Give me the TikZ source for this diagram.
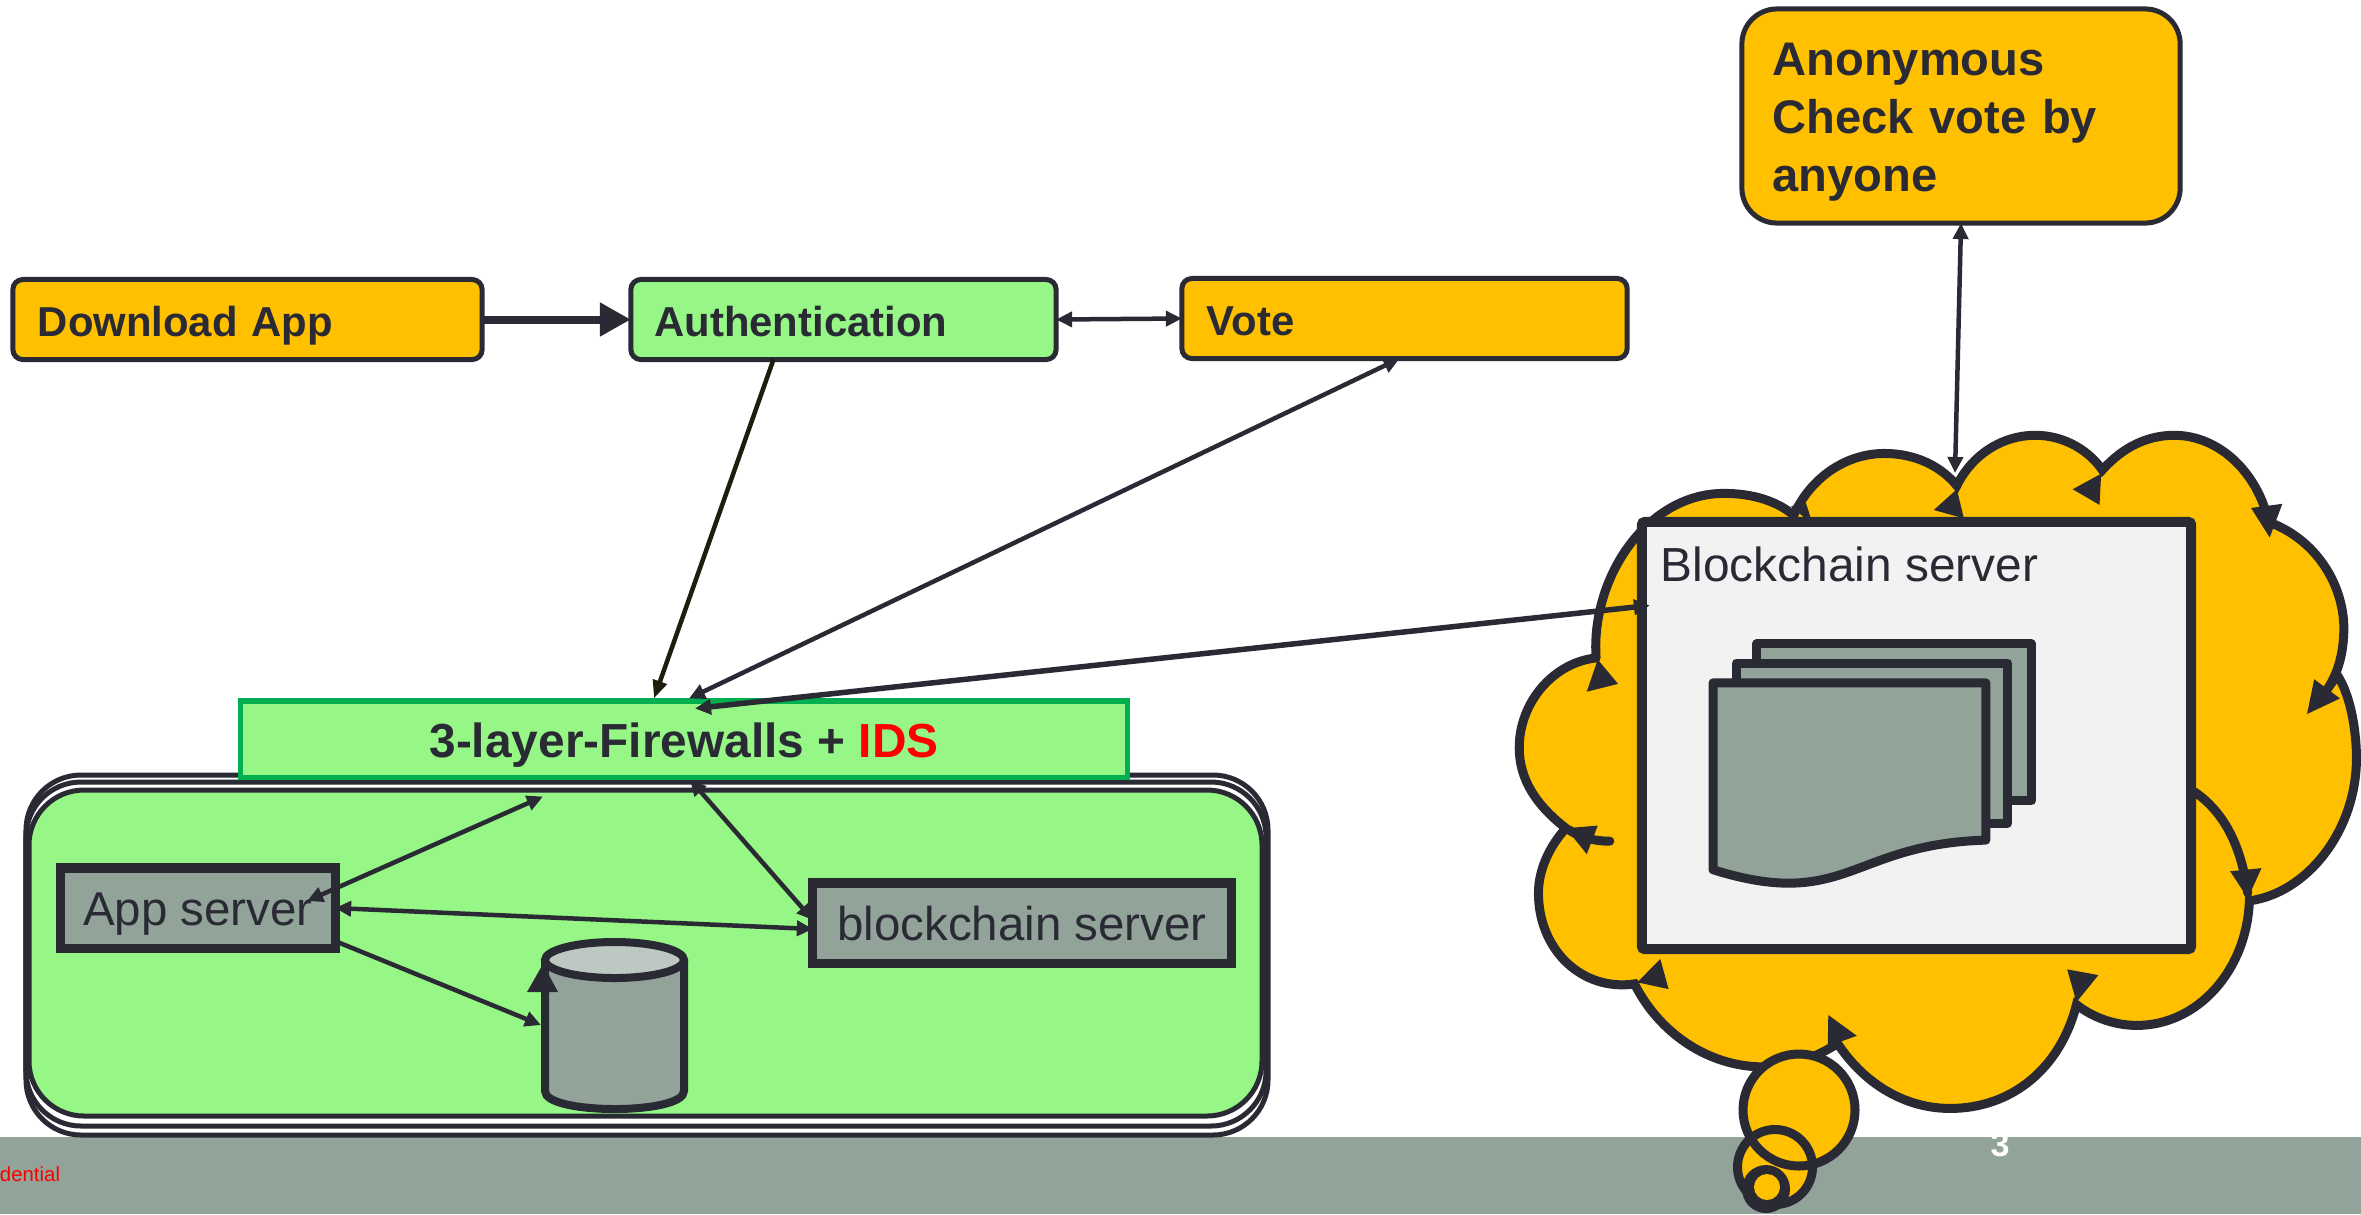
\documentclass[tikz,border=0pt]{standalone}
\usepackage{tikz}
\usepackage{xcolor}
\usepackage{fontspec}
\setmainfont{Liberation Sans}
\usetikzlibrary{arrows.meta}
\definecolor{inkdark}{HTML}{2A2A35}
\definecolor{boxorange}{HTML}{FFC000}
\definecolor{boxgreen}{HTML}{96F786}
\definecolor{wallgreen}{HTML}{00B050}
\definecolor{slategray}{HTML}{92A399}
\definecolor{paleslate}{HTML}{BEC8C2}
\definecolor{paperwhite}{HTML}{F2F2F2}
\definecolor{olivedark}{HTML}{1F1D0C}
\tikzset{
  stepbox/.style={rectangle,rounded corners=.1cm,draw=inkdark,line width=.05cm,text=inkdark,inner sep=0pt,outer sep=0pt,
    text height=12pt,text depth=2.5pt,font=\fontsize{11.9}{14.4}\selectfont\bfseries},
  serverbox/.style={rectangle,fill=slategray,draw=inkdark,line width=.09cm,text=inkdark,inner sep=0pt,outer sep=0pt,
    text height=10pt,text depth=0pt,font=\fontsize{13.5}{16}\selectfont},
  wire/.style={draw=inkdark,line width=.045cm,{Triangle[length=.16cm,width=.15cm]}-{Triangle[length=.16cm,width=.15cm]}},
  lobe/.style={draw=inkdark,line width=.09cm,line cap=round},
  sheet/.style={draw=inkdark,line width=.09cm,fill=slategray,line join=round},
  room/.style={draw=inkdark,line width=.05cm,rounded corners=.55cm},
}
\begin{document}
\begin{tikzpicture}[x=.01cm,y=-.01cm]
\useasboundingbox (0,0) rectangle (2361,1214);
% footer band
\fill[slategray] (0,1137) rectangle (2361,1214);
\draw (30,1174) node[text=red,font=\fontsize{5.8}{7}\selectfont](footer) {dential};
\draw (2000,1145) node[text=white,font=\fontsize{9.7}{11}\selectfont\bfseries](pagenum) {3};
% top row
\draw (247.5,319.5) node[stepbox,fill=boxorange,minimum width=4.69cm,minimum height=.8cm,text width=4.19cm](download) {Download App};
\draw (843.5,319.5) node[stepbox,fill=boxgreen,minimum width=4.25cm,minimum height=.8cm,text width=3.78cm](auth) {Authentication};
\draw (1404.5,318.5) node[stepbox,fill=boxorange,minimum width=4.45cm,minimum height=.8cm,text width=3.95cm](vote) {Vote};
\draw (1961,116) node[stepbox,fill=boxorange,rounded corners=.35cm,minimum width=4.38cm,minimum height=2.14cm,text width=3.77cm,
  text height=9.6pt,text depth=32.8pt,font=\fontsize{13.4}{16.6}\selectfont\bfseries](anon) {Anonymous\\Check vote by\\anyone};
% stacked server room
\draw[room,fill=white] (26,775) rectangle (1268,1135);
\draw[room,fill=white] (26,782) rectangle (1266,1126);
\draw[room,fill=boxgreen] (29,790) rectangle (1262,1116);
\draw (684,739) node[rectangle,fill=boxgreen,draw=wallgreen,line width=.05cm,minimum width=8.87cm,minimum height=.76cm,inner sep=0pt,text=inkdark,
  text height=13.5pt,text depth=2.8pt,font=\fontsize{13.6}{16}\selectfont\bfseries](wall) {3-layer-Firewalls + \textcolor{red}{IDS}};
\draw (198,908) node[serverbox,minimum width=2.74cm,minimum height=.8cm](appsrv) {App server};
\draw (1022,923) node[serverbox,minimum width=4.18cm,minimum height=.8cm](chainsrv) {blockchain server};
% database
\draw (614.5,1025) node[rectangle,minimum width=1.47cm,minimum height=1.75cm,inner sep=0pt,outer sep=0pt](store) {};
\filldraw[draw=inkdark,line width=.08cm,fill=slategray] (545,960) -- (545,1091) .. controls (545,1115) and (684,1115) .. (684,1091) -- (684,960);
\filldraw[draw=inkdark,line width=.08cm,fill=paleslate] (614.5,960) ellipse [x radius=69.5,y radius=18];
\fill[inkdark] (543,964) -- (558,992) -- (527,992) -- cycle;
% thought cloud
\begin{scope}[shift={(1500,400)},xscale=.549,yscale=.519]
\filldraw[lobe,fill=boxorange] (175,497)
  .. controls (165,340) and (270,178) .. (410,180) .. controls (460,180) and (505,195) .. (535,222)
  .. controls (565,150) and (630,103) .. (700,103) .. controls (760,103) and (805,130) .. (832,165)
  .. controls (860,105) and (915,68) .. (975,68) .. controls (1030,68) and (1075,100) .. (1097,135)
  .. controls (1135,90) and (1180,68) .. (1228,68) .. controls (1310,68) and (1380,140) .. (1400,235)
  .. controls (1490,270) and (1537,360) .. (1537,440) .. controls (1537,490) and (1525,530) .. (1505,560)
  -- (1525,530)
  .. controls (1550,570) and (1560,640) .. (1560,690) .. controls (1560,830) and (1470,950) .. (1365,965)
  .. controls (1360,1100) and (1270,1205) .. (1160,1205) .. controls (1120,1205) and (1080,1190) .. (1050,1165)
  .. controls (1020,1290) and (930,1365) .. (820,1365) .. controls (740,1365) and (665,1320) .. (615,1240)
  .. controls (570,1270) and (525,1285) .. (480,1285) .. controls (380,1285) and (290,1220) .. (245,1125)
  .. controls (150,1140) and (70,1060) .. (70,950) .. controls (70,905) and (90,860) .. (120,825)
  .. controls (65,780) and (35,730) .. (35,670) .. controls (35,580) and (100,505) .. (175,497);
\draw[lobe] (1265,755) .. controls (1320,795) and (1350,860) .. (1362,950);
\draw[lobe] (200,850) .. controls (175,850) and (150,845) .. (125,828);
\foreach \xa/\ya/\xb/\yb/\xc/\yc in {120/825/178/820/158/875,178/500/215/547/158/562,530/205/557/198/570/240,
  832/172/845/228/790/212,1095/142/1092/202/1043/172,1425/200/1368/208/1402/265,1483/538/1530/575/1470/605,
  1362/960/1330/908/1387/902,1050/1160/1033/1097/1090/1108,650/1225/598/1185/597/1245,250/1122/292/1077/307/1135}
  \fill[inkdark] (\xa,\ya) -- (\xb,\yb) -- (\xc,\yc) -- cycle;
\end{scope}
% thought bubbles
\fill[boxorange] (1775,1167) circle [radius=37.5];
\filldraw[lobe,fill=boxorange] (1799,1110) circle [radius=56];
\draw[lobe] (1775,1167) circle [radius=37.5];
\fill[inkdark] (1766,1189) circle [radius=24];
\fill[boxorange] (1767,1187) circle [radius=13];
% blockchain box
\draw (1916.5,735.5) node[rectangle,fill=paperwhite,draw=inkdark,line width=.1cm,rounded corners=.03cm,minimum width=5.49cm,minimum height=4.27cm,outer sep=0pt](cloudsrv) {};
\draw (1660,564) node[anchor=west,inner sep=0pt,text=inkdark,font=\fontsize{13.6}{16}\selectfont](cloudlabel) {Blockchain server};
\begin{scope}[shift={(1500,400)},xscale=.549,yscale=.519]
\filldraw[sheet] (468,470) rectangle (968,772);
\filldraw[sheet] (430,507) rectangle (925,815);
\filldraw[sheet] (388,545) -- (885,545) -- (885,848) .. controls (640,855) and (630,985) .. (388,905) -- cycle;
\end{scope}
% connectors
\coordinate (cloudtop) at (1955,473);
\draw[draw=inkdark,line width=.08cm,-{Triangle[length=.31cm,width=.32cm]}] (download.east) -- (auth.west);
\draw[wire] (auth.east) -- (vote.west);
\draw[draw=olivedark,line width=.045cm,-{Triangle[length=.18cm,width=.14cm]}] ([xshift=-.7cm]auth.south) -- ([xshift=-.3cm]wall.north);
\draw[wire] ([xshift=-.05cm]vote.south) -- ([xshift=.05cm]wall.north);
\draw[wire,line width=.055cm] ([xshift=.08cm,yshift=1.3cm]cloudsrv.west) -- ([xshift=.11cm,yshift=-.1cm]wall.north);
\draw[wire] (anon.south) -- (cloudtop);
\draw[wire] ([xshift=1.09cm,yshift=.07cm]appsrv.center) -- ([xshift=-1.41cm,yshift=-.17cm]wall.south);
\draw[wire] ([xshift=.06cm]wall.south) -- ([yshift=.03cm]chainsrv.west);
\draw[wire] (appsrv.east) -- ([yshift=-.06cm]chainsrv.west);
\draw[draw=inkdark,line width=.045cm,-{Triangle[length=.16cm,width=.15cm]}] ([yshift=-.33cm]appsrv.east) -- (store.west);
\end{tikzpicture}
\end{document}
